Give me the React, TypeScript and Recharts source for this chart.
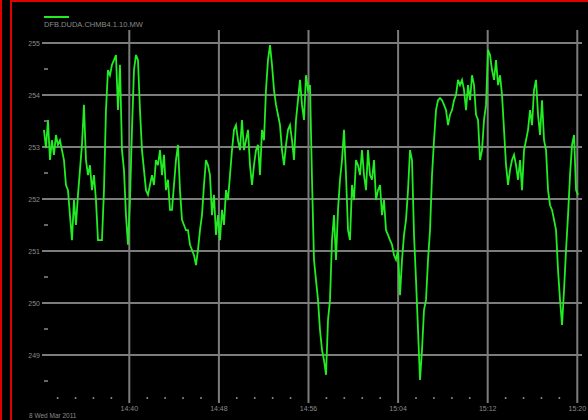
import React from 'react';
import { LineChart, Line, XAxis, YAxis, ReferenceLine } from 'recharts';

const SERIES_NAME = 'DFB.DUDA.CHMB4.1.10.MW';
const DATE_LABEL = '8 Wed Mar 2011';

// sample times: minutes after 14:00
const START_MIN = 32.38;
const STEP_MIN = 0.1786;

const values = [
  253.33, 252.98, 253.52, 252.75, 253.13, 252.85, 253.23, 253.04, 253.13, 252.94,
  252.75, 252.27, 252.17, 251.69, 251.21, 251.98, 251.50, 252.08, 252.56, 253.04,
  253.81, 252.75, 252.46, 252.65, 252.17, 252.46, 251.98, 251.21, 251.21, 251.21,
  252.17, 253.71, 254.48, 254.38, 254.58, 254.67, 254.77, 253.71, 254.58, 252.94,
  252.56, 251.69, 251.12, 251.98, 253.33, 254.48, 254.77, 254.67, 253.71, 252.94,
  252.56, 252.17, 252.08, 252.27, 252.46, 252.27, 252.75, 252.65, 252.94, 252.46,
  252.85, 252.17, 252.37, 251.79, 251.79, 252.27, 252.75, 253.04, 252.17, 251.60,
  251.50, 251.40, 251.40, 251.12, 251.02, 250.92, 250.73, 251.02, 251.40, 251.69,
  252.27, 252.75, 252.65, 252.46, 251.69, 252.08, 251.31, 251.69, 251.21, 251.79,
  251.50, 252.17, 251.98, 252.46, 252.94, 253.33, 253.42, 253.13, 252.94, 253.52,
  252.94, 253.13, 253.33, 252.65, 252.27, 252.65, 252.94, 253.04, 252.46, 253.33,
  253.13, 254.10, 254.67, 254.96, 254.58, 254.10, 253.81, 253.62, 253.42, 252.94,
  252.65, 253.04, 253.33, 253.42, 253.13, 252.75, 253.52, 253.90, 254.29, 253.81,
  253.52, 254.38, 254.10, 254.19, 252.37, 250.83, 250.44, 250.06, 249.48, 249.10,
  248.90, 248.62, 249.67, 250.06, 251.21, 251.69, 250.83, 251.79, 252.37, 252.75,
  253.33, 252.46, 251.40, 251.21, 252.27, 251.98, 252.75, 252.65, 252.46, 252.94,
  252.46, 252.17, 252.94, 252.46, 252.37, 252.75, 251.98, 252.17, 252.27, 251.69,
  251.98, 251.40, 251.31, 251.21, 251.12, 250.92, 250.83, 251.02, 250.15, 250.83,
  251.31, 251.60, 252.17, 252.94, 252.75, 251.31, 250.44, 249.48, 248.52, 249.10,
  249.87, 250.06, 250.83, 251.40, 252.46, 253.13, 253.71, 253.90, 253.94, 253.90,
  253.81, 253.71, 253.42, 253.62, 253.71, 253.90, 254.00, 254.29, 254.19, 254.29,
  254.10, 253.71, 254.19, 253.90, 254.38, 254.19, 253.62, 253.52, 252.75, 252.94,
  253.52, 253.81, 254.87, 254.77, 254.48, 254.29, 254.67, 254.19, 254.38, 254.00,
  253.33, 252.65, 252.27, 252.56, 252.75, 252.85, 252.65, 252.37, 252.75, 252.17,
  252.94, 253.13, 253.33, 253.71, 253.42, 254.10, 254.29, 253.62, 253.23, 253.90,
  253.13, 252.94, 252.17, 251.88, 251.79, 251.60, 251.40, 250.63, 250.06, 249.58,
  250.25, 251.02, 251.69, 252.46, 253.04, 253.23, 252.17, 252.08,
];

const majorTimes = [40, 48, 56, 64, 72, 80];
const timeLabels = ['14:40', '14:48', '14:56', '15:04', '15:12', '15:20'];
const minorTimes = [
  33.6, 35.2, 36.8, 38.4, 41.6, 43.2, 44.8, 46.4, 49.6, 51.2, 52.8, 54.4,
  57.6, 59.2, 60.8, 62.4, 65.6, 67.2, 68.8, 70.4, 73.6, 75.2, 76.8, 78.4,
];
const yMajor = [249, 250, 251, 252, 253, 254, 255];
const yMinor = [248.5, 249.5, 250.5, 251.5, 252.5, 253.5, 254.5];

const data = values.map((v, i) => ({ t: START_MIN + i * STEP_MIN, v }));

const GRID = '#7c7c7c';
const TEXT = '#8a8a8a';
const FONT = '"Liberation Sans", Arial, sans-serif';

const YTick = (props: any) => {
  const { x, y, payload } = props;
  const v = payload.value;
  if (yMajor.includes(v)) {
    return (
      <text x={x} y={y} textAnchor="end" dominantBaseline="central" fill={TEXT} fontSize={7} fontFamily={FONT}>
        {v}
      </text>
    );
  }
  return <line x1={x + 4} x2={x + 8} y1={y} y2={y} stroke={TEXT} strokeWidth={1.5} />;
};

const XTick = (props: any) => {
  const { x, y, payload } = props;
  const idx = majorTimes.indexOf(payload.value);
  if (idx >= 0) {
    return (
      <text x={x} y={y + 5} textAnchor="middle" dominantBaseline="central" fill={TEXT} fontSize={7} fontFamily={FONT}>
        {timeLabels[idx]}
      </text>
    );
  }
  return <circle cx={x} cy={y - 5} r={1} fill={TEXT} />;
};

export default function App() {
  return (
    <div style={{ position: 'absolute', left: 0, top: 0, width: 588, height: 420, background: '#000', overflow: 'hidden' }}>
      <div style={{ position: 'absolute', left: 0, top: 0, width: 2, height: 420, background: '#e00000' }} />
      <div style={{ position: 'absolute', left: 10, top: 0, width: 2, height: 420, background: '#e00000' }} />
      <div style={{ position: 'absolute', left: 10, top: 0, width: 578, height: 2, background: '#e00000' }} />
      <LineChart width={588} height={420} data={data} margin={{ top: 30, right: 6, bottom: 0, left: 0 }}>
        <XAxis
          dataKey="t"
          type="number"
          domain={[32.205, 80.42]}
          ticks={[...minorTimes, ...majorTimes].sort((a, b) => a - b)}
          interval={0}
          height={17}
          tickSize={0}
          tickMargin={0}
          axisLine={false}
          tickLine={false}
          tick={<XTick />}
          allowDataOverflow
        />
        <YAxis
          type="number"
          domain={[248.077, 255.25]}
          ticks={[...yMinor, ...yMajor].sort((a, b) => a - b)}
          interval={0}
          width={42}
          tickSize={0}
          tickMargin={2}
          axisLine={false}
          tickLine={false}
          tick={<YTick />}
          allowDataOverflow
        />
        {yMajor.map((v) => (
          <ReferenceLine key={'h' + v} y={v} stroke={GRID} strokeWidth={2} />
        ))}
        {majorTimes.map((t) => (
          <ReferenceLine key={'v' + t} x={t} stroke={GRID} strokeWidth={2} />
        ))}
        <Line
          type="linear"
          dataKey="v"
          name={SERIES_NAME}
          stroke="#22ec22"
          strokeWidth={1.8}
          dot={false}
          isAnimationActive={false}
        />
      </LineChart>
      <div style={{ position: 'absolute', left: 44, top: 16, width: 25, height: 2, background: '#22ec22' }} />
      <div style={{ position: 'absolute', left: 44, top: 20, fontSize: 7.5, color: TEXT, fontFamily: FONT, lineHeight: '9px', whiteSpace: 'nowrap' }}>
        {SERIES_NAME}
      </div>
      <div style={{ position: 'absolute', left: 29, top: 412, fontSize: 6.5, color: TEXT, fontFamily: FONT, lineHeight: '8px', whiteSpace: 'nowrap' }}>
        {DATE_LABEL}
      </div>
    </div>
  );
}
